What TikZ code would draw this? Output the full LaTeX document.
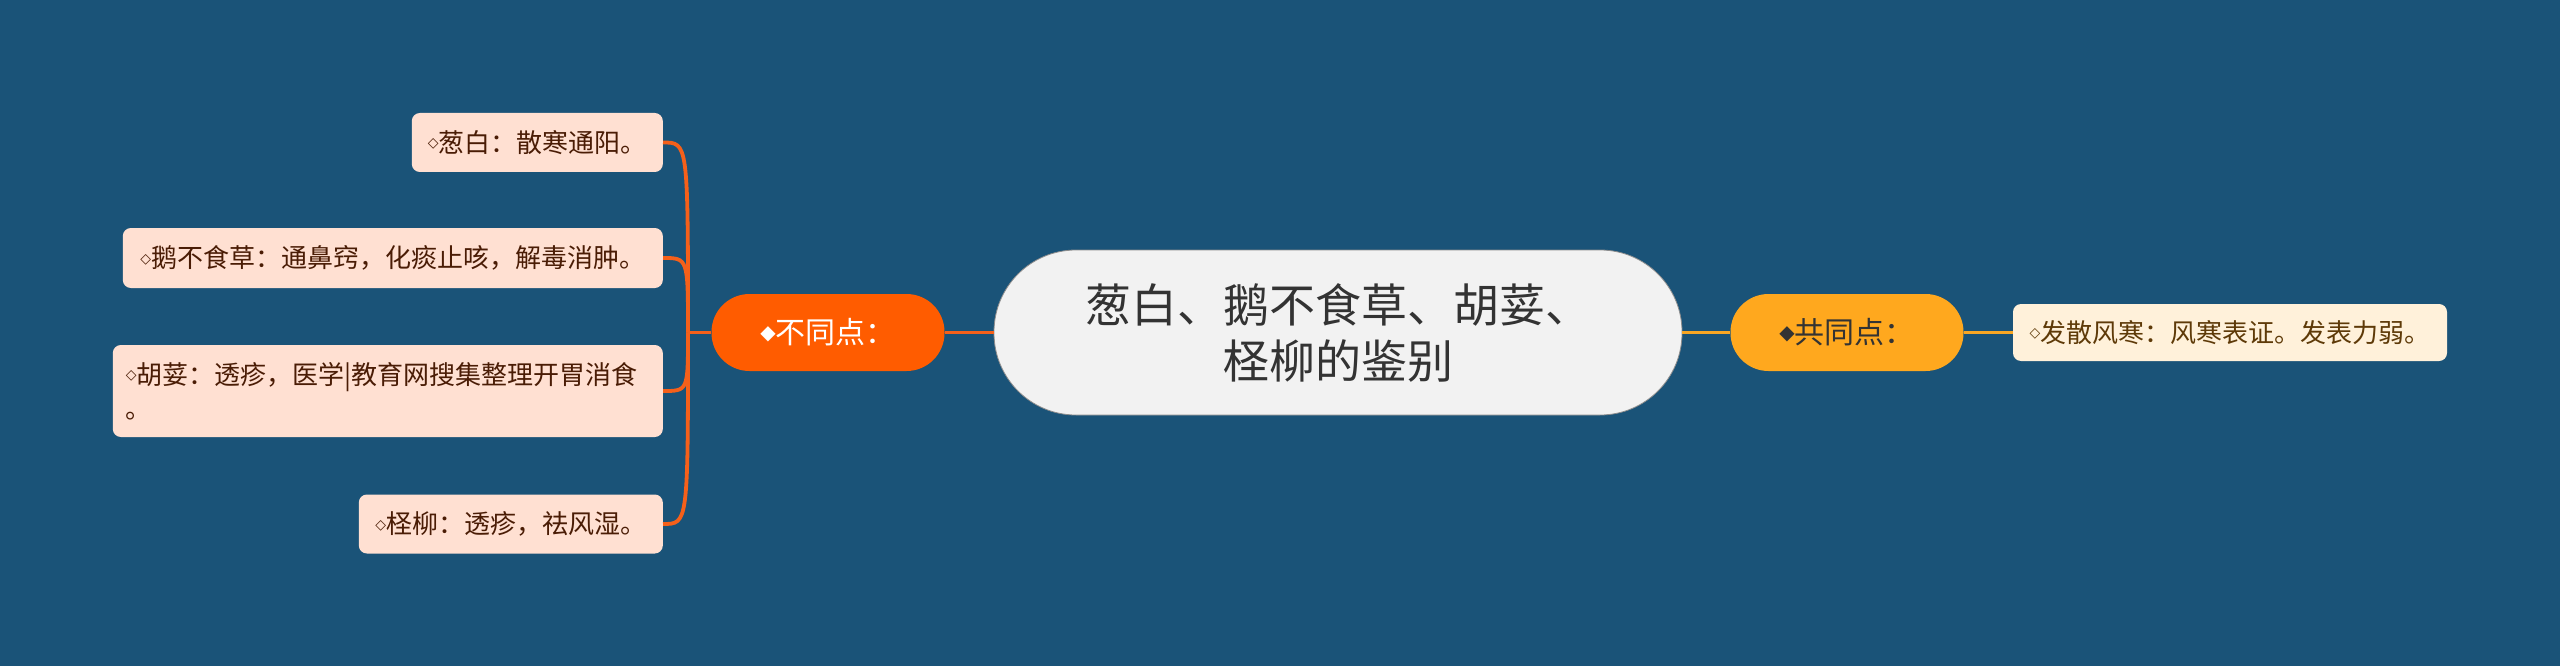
\documentclass[tikz,border=0pt]{standalone}
\usepackage{fontspec}
\setmainfont{Noto Sans CJK SC}
\newfontfamily\symf{DejaVu Sans}
\definecolor{bg}{HTML}{1A5378}
\definecolor{cfill}{HTML}{F2F2F2}
\definecolor{ctext}{HTML}{333333}
\definecolor{orng}{HTML}{FF5C00}
\definecolor{oline}{HTML}{F5601A}
\definecolor{ambr}{HTML}{FFA81E}
\definecolor{aline}{HTML}{F8A623}
\definecolor{peach}{HTML}{FFE0D2}
\definecolor{ptext}{HTML}{4A1C05}
\definecolor{cream}{HTML}{FFF1DA}
\definecolor{crtext}{HTML}{5E3A08}
\newcommand{\wdia}{\raisebox{4.5pt}{\symf\fontsize{14}{14}\selectfont ◇}}
\newcommand{\bdia}{\raisebox{4pt}{\symf\fontsize{20}{20}\selectfont ◆}}
\tikzset{
  centerbox/.style={fill=cfill, draw=black!45, line width=0.8pt, rounded corners=82pt,
    minimum width=688pt, minimum height=165pt, align=center, text=ctext,
    font=\fontsize{46}{56}\selectfont, inner sep=0pt},
  mainbox/.style={rounded corners=38pt, minimum width=233pt, minimum height=77pt,
    font=\fontsize{30}{36}\selectfont, inner sep=0pt},
  leafbox/.style={fill=peach, text=ptext, rounded corners=8pt, minimum height=59pt,
    font=\fontsize{26}{34}\selectfont, inner sep=0pt, anchor=east},
  sleafbox/.style={fill=cream, text=crtext, rounded corners=8pt, minimum height=57pt,
    minimum width=434pt, font=\fontsize{26}{34}\selectfont, inner sep=0pt},
  oconn/.style={draw=oline, line width=3.8pt},
  aconn/.style={draw=aline, line width=3.8pt},
}
\begin{document}
\begin{tikzpicture}[x=1pt,y=-1pt]
\fill[bg] (0,0) rectangle (2560,666);
\useasboundingbox (0,0) rectangle (2560,666);

\node[centerbox] (c) at (1338,332.5) {葱白、鹅不食草、胡荽、\\柽柳的鉴别};
\node[mainbox, fill=orng, text=white] (diff) at (828,332.5) {\bdia 不同点：};
\node[mainbox, fill=ambr, text=ctext] (same) at (1847,332.5) {\bdia 共同点：};
\node[sleafbox] (sl) at (2230,332.5) {\wdia 发散风寒：风寒表证。发表力弱。};

\node[leafbox, minimum width=251pt] (l1) at (663,142.5) {\wdia 葱白：散寒通阳。};
\node[leafbox, minimum width=540pt, minimum height=60pt] (l2) at (663,258) {\wdia 鹅不食草：通鼻窍，化痰止咳，解毒消肿。};
\node[leafbox, text width=524pt, inner xsep=13pt, minimum height=92pt, align=left] (l3) at (663,391) {\wdia 胡荽：透疹，医学|教育网搜集整理开胃消食\\。};
\node[leafbox, minimum width=304pt] (l4) at (663,524) {\wdia 柽柳：透疹，祛风湿。};

\coordinate (j) at (688,332.5);
\draw[oconn] (c.west) -- (diff.east);
\draw[oconn] (diff.west) -- (j);
\foreach \l in {l1,l2,l3,l4}{
  \draw[oconn] (j) .. controls (j |- \l.east) .. (\l.east);
}
\draw[aconn] (c.east) -- (same.west);
\draw[aconn] (same.east) -- (sl.west);
\end{tikzpicture}
\end{document}
